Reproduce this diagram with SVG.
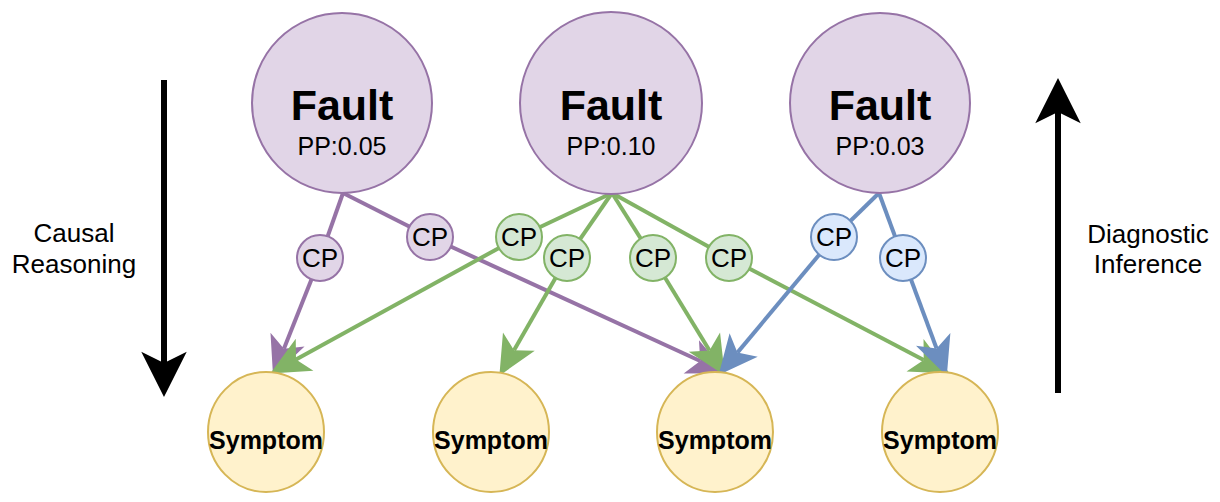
<svg xmlns="http://www.w3.org/2000/svg" width="1220" height="502" viewBox="0 0 1220 502">
<style>
text{font-family:"Liberation Sans",Arial,sans-serif;fill:#000;text-anchor:middle}
.fault{fill:#e1d5e7;stroke:#9673a6;stroke-width:2}
.sym{fill:#fff2cc;stroke:#d6b656;stroke-width:2}
.cpp{fill:#e1d5e7;stroke:#9673a6;stroke-width:2}
.cpg{fill:#d5e8d4;stroke:#82b366;stroke-width:2}
.cpb{fill:#dae8fc;stroke:#6c8ebf;stroke-width:2}
.ft{font-size:43px;font-weight:bold}
.pp{font-size:25px}
.st{font-size:25px;font-weight:bold}
.cp{font-size:26px}
.lbl{font-size:26px}
.ep{fill:none;stroke:#9673a6;stroke-width:4}
.eg{fill:none;stroke:#82b366;stroke-width:4}
.eb{fill:none;stroke:#6c8ebf;stroke-width:4}
.big{fill:none;stroke:#000;stroke-width:6}
</style>
<defs>
<marker id="ap" markerUnits="userSpaceOnUse" markerWidth="44" markerHeight="44" viewBox="-10 -17 36 34" refX="0" refY="0" orient="auto" overflow="visible"><path d="M24,0 L-8,-15 L0,0 L-8,15 Z" fill="#9673a6"/></marker>
<marker id="ag" markerUnits="userSpaceOnUse" markerWidth="44" markerHeight="44" viewBox="-10 -17 36 34" refX="0" refY="0" orient="auto" overflow="visible"><path d="M24,0 L-8,-15 L0,0 L-8,15 Z" fill="#82b366"/></marker>
<marker id="ab" markerUnits="userSpaceOnUse" markerWidth="44" markerHeight="44" viewBox="-10 -17 36 34" refX="0" refY="0" orient="auto" overflow="visible"><path d="M24,0 L-8,-15 L0,0 L-8,15 Z" fill="#6c8ebf"/></marker>
<marker id="ak" markerUnits="userSpaceOnUse" markerWidth="50" markerHeight="50" viewBox="-12 -22 44 44" refX="0" refY="0" orient="auto" overflow="visible"><path d="M30,0 L-10,-20 L0,0 L-10,20 Z" fill="#000"/></marker>
</defs>

<g id="connectors">
<line class="ep" x1="343" y1="193" x2="320" y2="258"/>
<line class="ep" x1="343" y1="193" x2="430" y2="237"/>
<line class="ep" x1="320" y1="258" x2="283.9" y2="348.7" marker-end="url(#ap)"/>
<line class="ep" x1="430" y1="237" x2="700.2" y2="361" marker-end="url(#ap)"/>
<line class="eg" x1="612" y1="193" x2="519" y2="237"/>
<line class="eg" x1="612" y1="193" x2="567" y2="258"/>
<line class="eg" x1="612" y1="193" x2="653" y2="258"/>
<line class="eg" x1="612" y1="193" x2="729" y2="258"/>
<line class="eg" x1="519" y1="237" x2="296" y2="359.5" marker-end="url(#ag)"/>
<line class="eg" x1="567" y1="258" x2="514" y2="350.2" marker-end="url(#ag)"/>
<line class="eg" x1="653" y1="258" x2="709.5" y2="350.5" marker-end="url(#ag)"/>
<line class="eg" x1="729" y1="258" x2="923.7" y2="359.9" marker-end="url(#ag)"/>
<line class="eb" x1="879" y1="193" x2="834" y2="237"/>
<line class="eb" x1="879" y1="193" x2="903" y2="258"/>
<line class="eb" x1="834" y1="237" x2="737.4" y2="352.6" marker-end="url(#ab)"/>
<line class="eb" x1="903" y1="258" x2="936.6" y2="348.5" marker-end="url(#ab)"/>
</g>

<g id="arrow-causal">
<line class="big" x1="164" y1="80" x2="164" y2="363" marker-end="url(#ak)"/>
<text class="lbl" x="74" y="242">Causal</text>
<text class="lbl" x="74" y="273">Reasoning</text>
</g>
<g id="arrow-diagnostic">
<line class="big" x1="1058" y1="393" x2="1058" y2="112" marker-end="url(#ak)"/>
<text class="lbl" x="1148" y="243">Diagnostic</text>
<text class="lbl" x="1148" y="273">Inference</text>
</g>

<g id="fault1"><circle class="fault" cx="342" cy="103" r="90"/><text class="ft" x="342" y="120">Fault</text><text class="pp" x="342" y="155">PP:0.05</text></g>
<g id="fault2"><circle class="fault" cx="611" cy="103" r="91"/><text class="ft" x="611" y="120">Fault</text><text class="pp" x="611" y="155">PP:0.10</text></g>
<g id="fault3"><circle class="fault" cx="880" cy="103" r="90"/><text class="ft" x="880" y="120">Fault</text><text class="pp" x="880" y="155">PP:0.03</text></g>

<g id="cp-p1"><circle class="cpp" cx="320" cy="258" r="23"/><text class="cp" x="320" y="267">CP</text></g>
<g id="cp-p2"><circle class="cpp" cx="430" cy="237" r="23"/><text class="cp" x="430" y="246">CP</text></g>
<g id="cp-g1"><circle class="cpg" cx="519" cy="237" r="23"/><text class="cp" x="519" y="246">CP</text></g>
<g id="cp-g2"><circle class="cpg" cx="567" cy="258" r="23"/><text class="cp" x="567" y="267">CP</text></g>
<g id="cp-g3"><circle class="cpg" cx="653" cy="258" r="23"/><text class="cp" x="653" y="267">CP</text></g>
<g id="cp-g4"><circle class="cpg" cx="729" cy="258" r="23"/><text class="cp" x="729" y="267">CP</text></g>
<g id="cp-b1"><circle class="cpb" cx="834" cy="237" r="23"/><text class="cp" x="834" y="246">CP</text></g>
<g id="cp-b2"><circle class="cpb" cx="903" cy="258" r="23"/><text class="cp" x="903" y="267">CP</text></g>

<g id="symptom1"><ellipse class="sym" cx="266" cy="432" rx="58" ry="60"/><text class="st" x="266" y="449">Symptom</text></g>
<g id="symptom2"><ellipse class="sym" cx="491" cy="432" rx="58" ry="60"/><text class="st" x="491" y="449">Symptom</text></g>
<g id="symptom3"><ellipse class="sym" cx="715" cy="432" rx="58" ry="60"/><text class="st" x="715" y="449">Symptom</text></g>
<g id="symptom4"><ellipse class="sym" cx="940" cy="432" rx="58" ry="60"/><text class="st" x="940" y="449">Symptom</text></g>
</svg>
